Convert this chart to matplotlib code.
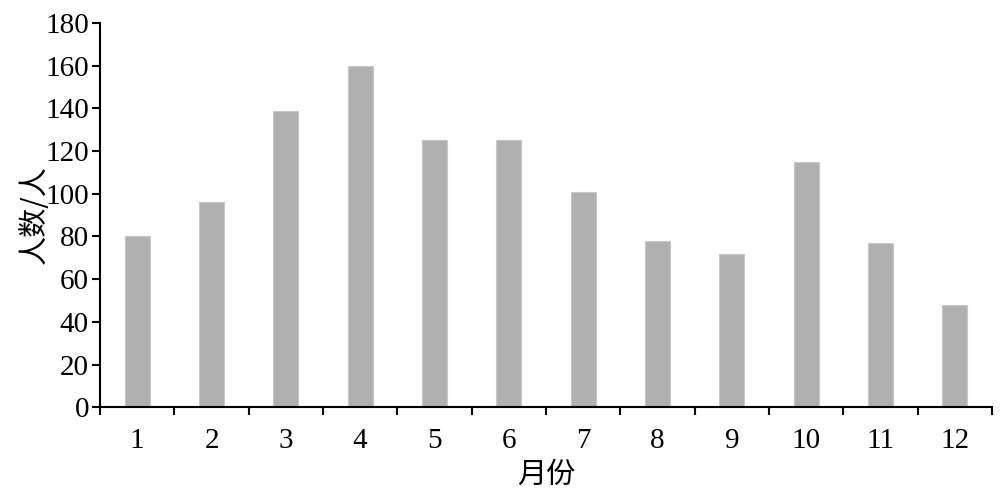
import matplotlib.pyplot as plt
import numpy as np

months = ['1', '2', '3', '4', '5', '6', '7', '8', '9', '10', '11', '12']
counts = [80, 96, 139, 160, 125, 125, 101, 78, 72, 115, 77, 48]

plt.rcParams['font.family'] = ['Liberation Serif', 'Noto Sans CJK SC']

fig = plt.figure(figsize=(10, 4.9), dpi=100)
ax = fig.add_axes([0.1, 0.169, 0.892, 0.784])

x = np.arange(1, len(months) + 1)
ax.bar(x, counts, width=0.34, color='#b0b0b0', edgecolor='#c8c8c8', linewidth=0.8)

ax.set_xlim(0.5, len(months) + 0.5)
ax.set_ylim(0, 180)
ax.set_yticks(range(0, 181, 20))
ax.set_xticks(x)
ax.set_xticklabels(months)
ax.set_xticks(np.arange(0.5, len(months) + 1, 1), minor=True)

ax.tick_params(axis='x', which='major', length=0, pad=15, labelsize=21)
ax.tick_params(axis='x', which='minor', length=6, width=1.5, direction='out')
ax.tick_params(axis='y', length=6, width=1.5, direction='out', labelsize=21, pad=2)

for s in ['top', 'right']:
    ax.spines[s].set_visible(False)
for s in ['left', 'bottom']:
    ax.spines[s].set_linewidth(1.5)

ax.set_ylabel('人数/人', fontsize=21, family=['Noto Sans CJK SC'], labelpad=-3)
ax.set_xlabel('月份', fontsize=21, family=['Noto Sans CJK SC'], labelpad=4)

plt.savefig('out.png')
